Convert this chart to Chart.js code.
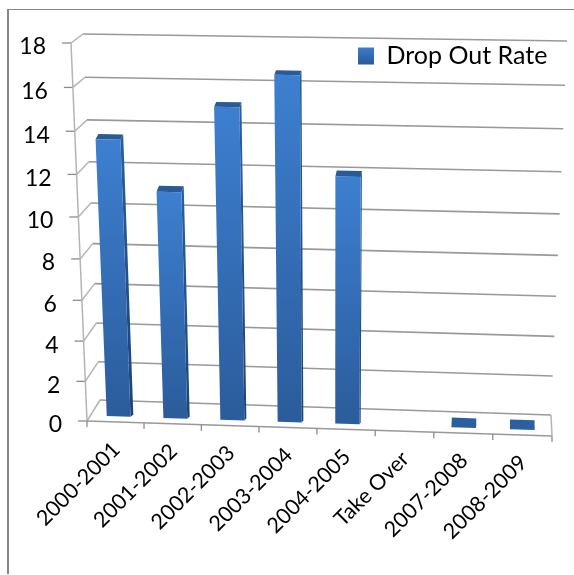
<!DOCTYPE html>
<html>
<head>
  <meta charset="UTF-8">
  <title>Drop Out Rate</title>
  <script src="https://cdn.jsdelivr.net/npm/chart.js"></script>
  <style>
    html, body { margin: 0; padding: 0; background: #fff; overflow: hidden; }
    canvas { position: absolute; left: 0; top: 0; }
    #frame { position: absolute; left: 7px; top: 9px; right: 0; height: 564px; border-left: 2px solid #868686; border-top: 1px solid #868686; }
  </style>
</head>
<body>

<div id="frame"></div>
<canvas id="rateChart" width="574" height="575"></canvas>

<script>
  const years = ['2000-2001', '2001-2002', '2002-2003', '2003-2004', '2004-2005', 'Take Over', '2007-2008', '2008-2009'];
  const dropOutRate = [13.5, 11.1, 15.1, 16.6, 12, null, 0, 0];

  // corners of the front and back planes on screen: TL, TR, BR, BL
  const frontPlane = [[71, 43], [567, 50], [552, 436], [87, 421]];
  const backPlane = [[83, 34], [567, 41], [551, 415], [100, 400]];
  // bar depth: front face, back edge, and how far the side face runs across
  const barFront = 0.26, barBack = 0.72, barSide = 0.5;

  // unit square to quad homography
  function quadMap(q) {
    const [[x0, y0], [x1, y1], [x2, y2], [x3, y3]] = q;
    const dx1 = x1 - x2, dx2 = x3 - x2, sx = x0 - x1 + x2 - x3;
    const dy1 = y1 - y2, dy2 = y3 - y2, sy = y0 - y1 + y2 - y3;
    const det = dx1 * dy2 - dx2 * dy1;
    const g = (sx * dy2 - dx2 * sy) / det;
    const h = (dx1 * sy - sx * dy1) / det;
    const a = x1 - x0 + g * x1, b = x3 - x0 + h * x3;
    const d = y1 - y0 + g * y1, e = y3 - y0 + h * y3;
    return (u, v) => {
      const w = g * u + h * v + 1;
      return [(a * u + b * v + x0) / w, (d * u + e * v + y0) / w];
    };
  }
  const frontMap = quadMap(frontPlane);
  const backMap = quadMap(backPlane);

  // scale pixel + depth (0 front, 1 back) to a screen point
  function project(chart, px, py, z, zx = z) {
    const area = chart.chartArea;
    const u = (px - area.left) / area.width;
    const v = (py - area.top) / area.height;
    const f = frontMap(u, v), b = backMap(u, v);
    return [f[0] + (b[0] - f[0]) * zx, f[1] + (b[1] - f[1]) * z];
  }

  function line(ctx, a, b, color, width) {
    ctx.strokeStyle = color;
    ctx.lineWidth = width;
    ctx.beginPath();
    ctx.moveTo(a[0], a[1]);
    ctx.lineTo(b[0], b[1]);
    ctx.stroke();
  }

  function poly(ctx, pts, fill) {
    ctx.fillStyle = fill;
    ctx.beginPath();
    pts.forEach((p, i) => i ? ctx.lineTo(p[0], p[1]) : ctx.moveTo(p[0], p[1]));
    ctx.closePath();
    ctx.fill();
  }

  const perspectivePlugin = {
    id: 'perspective',
    afterLayout(chart) {
      const legend = chart.legend;
      legend.left = 358;
      legend.right = 574;
      legend.top = 42;
      legend.bottom = 70;
    },
    beforeDatasetsDraw(chart) {
      const ctx = chart.ctx;
      const xs = chart.scales.x, ys = chart.scales.y;
      const area = chart.chartArea;
      const wallColor = '#999999', axisColor = '#b4b4b4';

      // walls: gridlines on the back, slants on the left side
      ys.ticks.forEach(t => {
        const py = ys.getPixelForValue(t.value);
        const front = project(chart, area.left, py, 0);
        const back = project(chart, area.left, py, 1);
        line(ctx, front, back, axisColor, 1.5);
        line(ctx, back, project(chart, area.right, py, 1), wallColor, 1.6);
        line(ctx, [front[0] - 9, front[1]], front, '#8c8c8c', 1.3);
      });
      line(ctx, project(chart, area.left, area.top, 0), project(chart, area.left, area.bottom, 0), axisColor, 1.5);

      // floor
      const base = area.bottom;
      line(ctx, project(chart, area.left, base, 0), project(chart, area.right, base, 0), wallColor, 1.6);
      line(ctx, project(chart, area.right, base, 0), project(chart, area.right, base, 1), axisColor, 1.5);
      const step = area.width / xs.ticks.length;
      for (let i = 0; i <= xs.ticks.length; i++) {
        const p = project(chart, area.left + i * step, base, 0);
        line(ctx, p, [p[0], p[1] + 6], '#8c8c8c', 1.3);
      }

      // bars from the element geometry
      chart.getDatasetMeta(0).data.forEach((bar, i) => {
        if (dropOutRate[i] === null) return;
        const { x, y, width, base: y0 } = bar.getProps(['x', 'y', 'width', 'base']);
        const l = x - width / 2, r = x + width / 2;
        const ftl = project(chart, l, y, barFront), ftr = project(chart, r, y, barFront);
        const fbl = project(chart, l, y0, barFront), fbr = project(chart, r, y0, barFront);
        const btl = project(chart, l, y, barBack, barSide), btr = project(chart, r, y, barBack, barSide);
        const bbr = project(chart, r, y0, barFront + 0.1, barSide);

        const grad = ctx.createLinearGradient(0, ftl[1], 0, fbl[1] + 1);
        grad.addColorStop(0, '#3d7fd0');
        grad.addColorStop(1, '#2b5c9b');
        const sideGrad = ctx.createLinearGradient(0, ftl[1], 0, fbl[1] + 1);
        sideGrad.addColorStop(0, '#2a5d9f');
        sideGrad.addColorStop(1, '#1d4473');

        poly(ctx, [ftr, btr, bbr, fbr], sideGrad);
        poly(ctx, [ftl, ftr, btr, btl], dropOutRate[i] ? '#2a5b97' : '#2c5f9f');
        if (dropOutRate[i]) poly(ctx, [ftl, ftr, fbr, fbl], grad);
      });
      return false;
    },
    afterDraw(chart) {
      const ctx = chart.ctx;
      const xs = chart.scales.x, ys = chart.scales.y;
      const area = chart.chartArea;
      ctx.save();
      ctx.fillStyle = '#000';
      ctx.textBaseline = 'middle';

      // value labels follow the slanted axis
      ctx.font = '23px Lato';
      ctx.textAlign = 'right';
      ys.ticks.forEach(t => {
        const p = project(chart, area.left, ys.getPixelForValue(t.value), 0);
        ctx.fillText(t.label, p[0] - 25, p[1] + 4);
      });

      // category labels, turned 45 degrees
      ctx.font = '21.5px Lato';
      xs.ticks.forEach((t, i) => {
        const p = project(chart, xs.getPixelForTick(i), area.bottom, 0);
        ctx.save();
        ctx.translate(p[0] + 1, p[1] + 24);
        ctx.rotate(-Math.PI / 4);
        ctx.fillText(xs.getLabelForValue(t.value), 0, 0);
        ctx.restore();
      });
      ctx.restore();
    }
  };

  const rateChart = new Chart(document.getElementById('rateChart'), {
    type: 'bar',
    data: {
      labels: years,
      datasets: [{
        label: 'Drop Out Rate',
        data: dropOutRate,
        backgroundColor: '#3d7fd0'
      }]
    },
    options: {
      responsive: false,
      animation: false,
      devicePixelRatio: 1,
      barPercentage: 0.42,
      categoryPercentage: 1,
      scales: {
        x: { display: false },
        y: { display: false, min: 0, max: 18, ticks: { stepSize: 2 } }
      },
      plugins: {
        tooltip: { enabled: false },
        legend: {
          position: 'chartArea',
          labels: {
            color: '#000',
            font: { family: 'Lato', size: 25 },
            boxWidth: 16,
            boxHeight: 17,
            padding: 0,
            generateLabels(chart) {
              const items = Chart.defaults.plugins.legend.labels.generateLabels(chart);
              const grad = chart.ctx.createLinearGradient(0, 46, 0, 63);
              grad.addColorStop(0, '#3d7fd0');
              grad.addColorStop(1, '#2b5c9b');
              items.forEach(item => { item.fillStyle = grad; item.lineWidth = 0; item.strokeStyle = 'transparent'; });
              return items;
            }
          }
        }
      }
    },
    plugins: [perspectivePlugin]
  });
</script>

</body>
</html>
